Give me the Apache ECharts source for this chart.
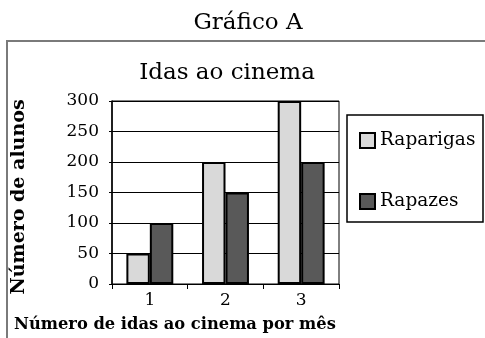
<!DOCTYPE html>
<html>
<head>
<meta charset="utf-8">
<script src="https://cdn.jsdelivr.net/npm/echarts@6/dist/echarts.min.js"></script>
<style>
  html, body { margin: 0; padding: 0; background: #fff; }
  #chart { width: 485px; height: 338px; }
</style>
</head>
<body>
<div id="chart"></div>
<script>
// Ida ao cinema: numero de alunos por numero de idas mensais
const categories = ['1', '2', '3'];
const raparigas = [50, 200, 300];
const rapazes = [100, 150, 200];
const yTicks = { min: 0, max: 300, interval: 50 };

const serif = '"DejaVu Serif", "Liberation Serif", serif';
const chart = echarts.init(document.getElementById('chart'), null, { renderer: 'canvas' });

chart.setOption({
  animation: false,
  backgroundColor: '#ffffff',
  grid: {
    left: 112, top: 101, right: 146, bottom: 54,
    show: true, borderColor: '#000', borderWidth: 1, backgroundColor: 'transparent'
  },
  legend: {
    orient: 'vertical', left: 354, top: 126,
    itemWidth: 15, itemHeight: 15, itemGap: 42,
    icon: 'rect',
    itemStyle: { borderColor: '#000', borderWidth: 2 },
    textStyle: { fontFamily: serif, fontSize: 18.5, color: '#000', padding: [0, 0, 0, 0] },
    data: ['Raparigas', 'Rapazes']
  },
  xAxis: {
    type: 'category',
    data: categories,
    axisLine: { lineStyle: { color: '#000', width: 1 } },
    axisTick: { show: true, length: 5, lineStyle: { color: '#000' } },
    axisLabel: { fontFamily: serif, fontSize: 17, color: '#000', margin: 8 }
  },
  yAxis: {
    type: 'value',
    min: yTicks.min, max: yTicks.max, interval: yTicks.interval,
    axisLine: { show: true, lineStyle: { color: '#000', width: 1.5 } },
    axisTick: { show: true, length: 3, lineStyle: { color: '#000' } },
    axisLabel: { fontFamily: serif, fontSize: 17, color: '#000', margin: 13 },
    splitLine: { show: true, lineStyle: { color: '#000', width: 1 } }
  },
  series: [
    { name: 'Raparigas', type: 'bar', data: raparigas, barGap: '0%', barCategoryGap: '38%',
      itemStyle: { color: '#d9d9d9', borderColor: '#000', borderWidth: 2 } },
    { name: 'Rapazes', type: 'bar', data: rapazes,
      itemStyle: { color: '#595959', borderColor: '#000', borderWidth: 2 } }
  ],
  graphic: [
    // outer frame, open to the right and bottom
    { type: 'rect', z: 0, shape: { x: 7, y: 41, width: 500, height: 320 },
      style: { fill: 'none', stroke: '#7a7a7a', lineWidth: 2 } },
    // legend frame
    { type: 'rect', z: 0, shape: { x: 347, y: 115, width: 136, height: 107 },
      style: { fill: 'none', stroke: '#000', lineWidth: 1.5 } },
    // headings
    { type: 'text', x: 248, y: 23,
      style: { text: 'Gráfico A', font: '23px ' + serif, fill: '#000',
               align: 'center', verticalAlign: 'middle' } },
    { type: 'text', x: 227, y: 73,
      style: { text: 'Idas ao cinema', font: '23px ' + serif, fill: '#000',
               align: 'center', verticalAlign: 'middle' } },
    // axis titles
    { type: 'text', x: 19, y: 197, rotation: Math.PI / 2,
      style: { text: 'Número de alunos', font: 'bold 19px ' + serif, fill: '#000',
               align: 'center', verticalAlign: 'middle' } },
    { type: 'text', left: 14, top: 317,
      style: { text: 'Número de idas ao cinema por mês', font: 'bold 16.3px ' + serif, fill: '#000' } }
  ]
});
</script>
</body>
</html>
